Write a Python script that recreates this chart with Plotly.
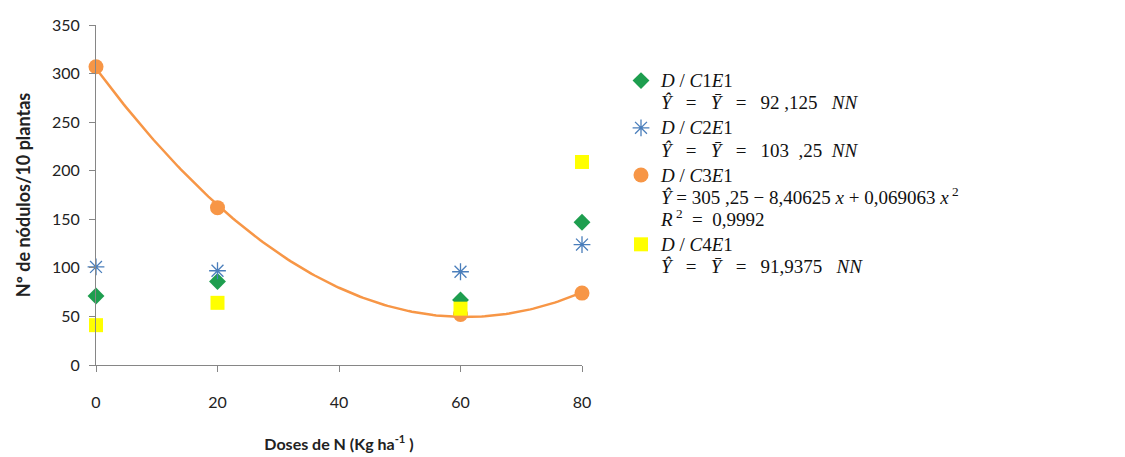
import numpy as np
import plotly.graph_objects as go

# ---- data ----
DOSES = [0, 20, 60, 80]
C1E1 = [71, 86, 67, 147]
C2E1 = [101, 97, 96, 124]
C3E1 = [307, 162, 52, 74]
C4E1 = [41, 64, 58, 209]
TREND_COEF = [305.25, -8.40625, 0.069063]   # quadratic fit for C3E1
X_TICKS = [0, 20, 40, 60, 80]
Y_TICKS = [0, 50, 100, 150, 200, 250, 300, 350]

S = "\u00a0"


def big(t):
    return f"<span style='font-size:19px'>{t}</span>"


NAMES = [
    big(f"<i>D</i> / <i>C</i>1<i>E</i>1") + "<br>" +
    big(f"<i>Ŷ</i>{S}{S} ={S}{S} <i>Ȳ</i>{S}{S} ={S}{S} 92{S},125{S}{S} <i>NN</i>"),
    big(f"<i>D</i> / <i>C</i>2<i>E</i>1") + "<br>" +
    big(f"<i>Ŷ</i>{S}{S} ={S}{S} <i>Ȳ</i>{S}{S} ={S}{S} 103{S}{S},25{S} <i>NN</i>"),
    big(f"<i>D</i> / <i>C</i>3<i>E</i>1") + "<br>" +
    big(f"<i>Ŷ</i> = 305 ,25 − 8,40625 <i>x</i> + 0,069063 <i>x</i><sup>{S}2</sup>") + "<br>" +
    big(f"<i>R</i><sup>{S}2</sup>{S} ={S} 0,9992"),
    big(f"<i>D</i> / <i>C</i>4<i>E</i>1") + "<br>" +
    big(f"<i>Ŷ</i>{S}{S} ={S}{S} <i>Ȳ</i>{S}{S} ={S}{S} 91,9375{S}{S} <i>NN</i>"),
]

GREEN = "#1E9E4F"
BLUE = "#4A7EBB"
ORANGE = "#F79646"
YELLOW = "#FFFF00"

fig = go.Figure()

xs = np.linspace(DOSES[0], DOSES[-1], 161)
ys = TREND_COEF[0] + TREND_COEF[1] * xs + TREND_COEF[2] * xs ** 2
fig.add_trace(go.Scatter(x=xs, y=ys, mode="lines", line=dict(color=ORANGE, width=2.5),
                         showlegend=False, hoverinfo="skip", cliponaxis=False))

fig.add_trace(go.Scatter(x=DOSES, y=C1E1, mode="markers", name=NAMES[0], cliponaxis=False,
                         marker=dict(symbol="diamond", size=13, color=GREEN)))
fig.add_trace(go.Scatter(x=DOSES, y=C2E1, mode="markers", name=NAMES[1], cliponaxis=False,
                         marker=dict(symbol="asterisk-open", size=14, color=BLUE,
                                     line=dict(color=BLUE, width=1.3))))
fig.add_trace(go.Scatter(x=DOSES, y=C3E1, mode="markers", name=NAMES[2], cliponaxis=False,
                         marker=dict(symbol="circle", size=15, color=ORANGE)))
fig.add_trace(go.Scatter(x=DOSES, y=C4E1, mode="markers", name=NAMES[3], cliponaxis=False,
                         marker=dict(symbol="square", size=14, color=YELLOW)))

axis_font = dict(family="Lato, 'Open Sans', sans-serif", size=16, color="#222222")

fig.update_layout(
    width=1125, height=457,
    margin=dict(l=96, r=543, t=25, b=92),
    paper_bgcolor="white", plot_bgcolor="white",
    font=axis_font,
    xaxis=dict(range=[0, 80], tickvals=X_TICKS, ticks="outside", ticklen=6, tickcolor="#868686",
               showline=True, linecolor="#868686", linewidth=1, showgrid=False, zeroline=False,
               ticklabelstandoff=17, tickfont=axis_font, automargin=False,
               title=dict(text="<b>Doses de N (Kg ha<sup>-1</sup> )</b>", standoff=28,
                          font=dict(family="Lato, sans-serif", size=16, color="#222222"))),
    yaxis=dict(range=[0, 350], tickvals=Y_TICKS, ticks="outside", ticklen=6, tickcolor="#868686",
               showline=True, linecolor="#868686", linewidth=1, showgrid=False, zeroline=False,
               tickfont=axis_font, ticklabelstandoff=6, automargin=False,
               title=dict(text="<b>Nº de nódulos/10 plantas</b>", standoff=16,
                          font=dict(family="Lato, sans-serif", size=18, color="#222222"))),
    legend=dict(xref="container", yref="container", x=0.552, y=0.862, xanchor="left", yanchor="top",
                valign="top", itemwidth=30, tracegroupgap=0, bgcolor="rgba(0,0,0,0)",
                font=dict(family="'Liberation Serif', 'Times New Roman', serif", size=17, color="#111111")),
    showlegend=True,
)

fig.write_html("out.html")
